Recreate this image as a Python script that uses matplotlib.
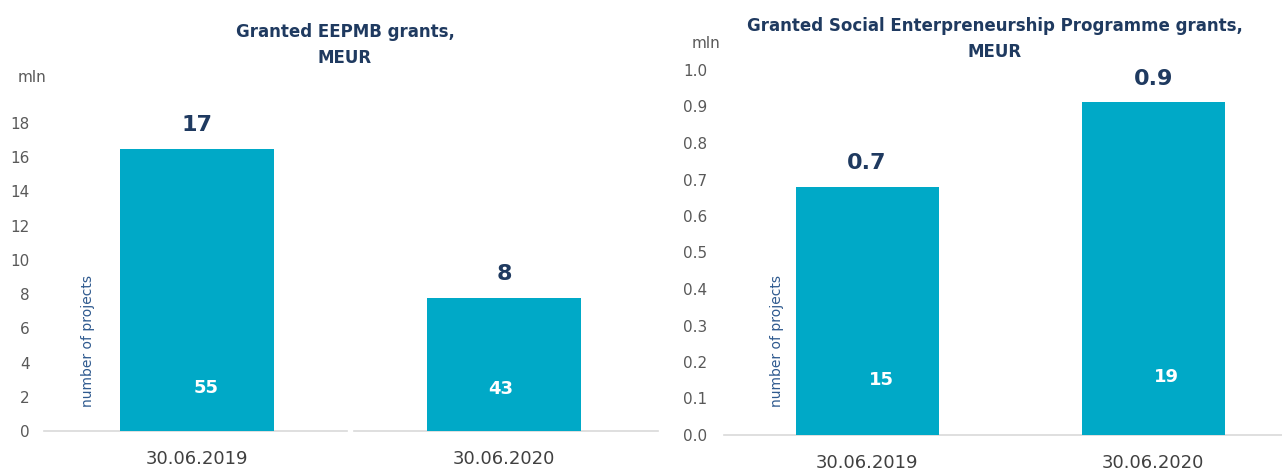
import numpy as np
import matplotlib.pyplot as plt

# data
dates = ['30.06.2019', '30.06.2020']
eepmb_meur = [16.5, 7.8]
eepmb_labels = ['17', '8']
eepmb_projects = [55, 43]
social_meur = [0.68, 0.912]
social_labels = ['0.7', '0.9']
social_projects = [15, 19]

BAR = '#00A9C7'
NAVY = '#1F3A60'
GREY = '#595959'
BLUE_TXT = '#2F5A8F'
LINE = '#D9D9D9'

plt.rcParams['font.family'] = ['DejaVu Sans']

fig = plt.figure(figsize=(12.82, 4.70), dpi=100)
ax1 = fig.add_axes([43.5 / 1282, 1 - 431 / 470, 614 / 1282, (431 - 123) / 470])
ax2 = fig.add_axes([724 / 1282, 1 - 435 / 470, 558 / 1282, (435 - 70) / 470])


def style_axes(ax, ylim, yticks, fmt, xlim, ypad, split=False):
    x = np.arange(len(dates))
    ax.set_xlim(*xlim)
    ax.set_ylim(*ylim)
    for s in ax.spines.values():
        s.set_visible(False)
    ax.set_yticks(yticks)
    ax.set_yticklabels([fmt.format(v) for v in yticks], color=GREY, fontsize=11)
    ax.set_xticks(x)
    ax.set_xticklabels(dates, color='#404040', fontsize=13)
    ax.tick_params(axis='both', length=0)
    ax.tick_params(axis='y', pad=ypad)
    ax.tick_params(axis='x', pad=14)
    # baseline (the left one has a small break between categories)
    if split:
        ax.plot([xlim[0], 0.49], [0, 0], color=LINE, lw=1.2, clip_on=False, zorder=1)
        ax.plot([0.51, xlim[1]], [0, 0], color=LINE, lw=1.2, clip_on=False, zorder=1)
    else:
        ax.plot(list(xlim), [0, 0], color=LINE, lw=1.2, clip_on=False, zorder=1)


def draw(ax, vals, labels, counts, count_y, count_dx):
    x = np.arange(len(dates))
    bars = ax.bar(x, vals, width=0.5, color=BAR, zorder=2)
    for b, lab in zip(bars, labels):
        ax.annotate(lab, (b.get_x() + b.get_width() / 2, b.get_height()),
                    xytext=(0, 17), textcoords='offset points',
                    ha='center', va='center', fontsize=16, fontweight='bold',
                    color=NAVY)
    for xi, c, cy, dx in zip(x, counts, count_y, count_dx):
        ax.text(xi + dx, cy, str(c), ha='center', va='center', fontsize=13,
                fontweight='bold', color='white', zorder=3)


# left: EEPMB
style_axes(ax1, (0, 18), np.arange(0, 19, 2), '{:.0f}', (-0.5, 1.5), 10, split=True)
draw(ax1, eepmb_meur, eepmb_labels, eepmb_projects, [2.5, 2.45], [0.03, -0.01])

# right: Social Entrepreneurship
style_axes(ax2, (0, 1.0), np.round(np.arange(0, 1.01, 0.1), 1), '{:.1f}',
           (-0.5, 1.45), 12)
draw(ax2, social_meur, social_labels, social_projects, [0.15, 0.16], [0.05, 0.045])

# titles and side texts
fig.text(345 / 1282, 1 - 32 / 470, 'Granted EEPMB grants,', ha='center', va='center',
         fontsize=12, fontweight='bold', color=NAVY)
fig.text(345 / 1282, 1 - 58 / 470, 'MEUR', ha='center', va='center',
         fontsize=12, fontweight='bold', color=NAVY)
fig.text(995 / 1282, 1 - 26 / 470, 'Granted Social Enterpreneurship Programme grants,',
         ha='center', va='center', fontsize=12, fontweight='bold', color=NAVY)
fig.text(995 / 1282, 1 - 52 / 470, 'MEUR', ha='center', va='center',
         fontsize=12, fontweight='bold', color=NAVY)

fig.text(18 / 1282, 1 - 77 / 470, 'mln', ha='left', va='center', fontsize=11, color=GREY)
fig.text(692 / 1282, 1 - 44 / 470, 'mln', ha='left', va='center', fontsize=11, color=GREY)

fig.text(88 / 1282, 1 - 341 / 470, 'number of projects', rotation=90, ha='center',
         va='center', fontsize=10, color=BLUE_TXT)
fig.text(777 / 1282, 1 - 341 / 470, 'number of projects', rotation=90, ha='center',
         va='center', fontsize=10, color=BLUE_TXT)

fig.savefig('out.png', dpi=100)
